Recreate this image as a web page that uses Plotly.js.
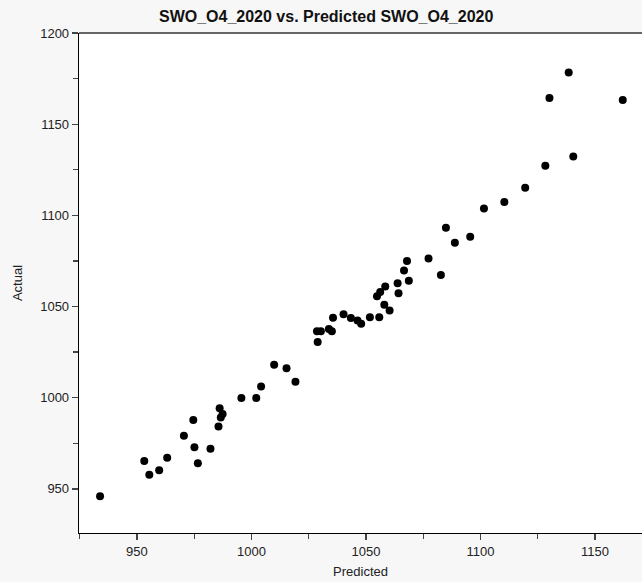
<!DOCTYPE html>
<html>
<head>
<meta charset="utf-8">
<script src="https://cdn.plot.ly/plotly-3.0.1.min.js"></script>
<style>html,body{margin:0;padding:0;background:#f7f7f7;overflow:hidden;}</style>
</head>
<body>
<div id="chart" style="width:642px;height:582px;"></div>
<script>
const predicted = [
  933.9, 953.2, 955.4, 959.7, 963.2, 970.5, 974.6, 975.1, 976.6, 982.1,
  985.6, 986.1, 986.6, 987.4, 995.6, 1002.1, 1004.2, 1009.9, 1015.3, 1019.2,
  1028.9, 1028.6, 1030.3, 1033.8, 1035.1, 1035.6, 1040.2, 1043.4, 1046.3, 1047.9,
  1051.7, 1055.8, 1054.8, 1056.2, 1058.4, 1058.0, 1060.3, 1063.8, 1064.2, 1066.6,
  1067.9, 1068.7, 1077.3, 1082.7, 1084.9, 1088.8, 1095.5, 1101.5, 1110.4, 1119.5,
  1128.3, 1130.1, 1138.5, 1140.5, 1162.1
];
const actual = [
  946.0, 965.3, 957.7, 960.2, 967.0, 979.1, 987.8, 972.8, 964.0, 972.0,
  984.2, 994.2, 989.1, 991.1, 999.9, 999.9, 1006.2, 1018.0, 1016.2, 1008.8,
  1030.6, 1036.4, 1036.4, 1037.7, 1036.4, 1043.8, 1045.8, 1043.7, 1042.3, 1040.5,
  1044.1, 1044.1, 1055.6, 1057.9, 1061.0, 1051.0, 1047.8, 1062.8, 1057.3, 1069.7,
  1075.0, 1064.2, 1076.3, 1067.3, 1093.2, 1085.0, 1088.2, 1103.8, 1107.3, 1115.2,
  1127.2, 1164.4, 1178.4, 1132.3, 1163.3
];
const chartTitle = "SWO_O4_2020 vs. Predicted SWO_O4_2020";
const xTitle = "Predicted";
const yTitle = "Actual";

const trace = {
  x: predicted, y: actual, type: 'scatter', mode: 'markers',
  marker: {color: '#000000', size: 8},
  hoverinfo: 'x+y'
};

const layout = {
  width: 642, height: 582,
  paper_bgcolor: '#f7f7f7', plot_bgcolor: '#ffffff',
  margin: {l: 78.5, r: 0, t: 33.3, b: 48.7, pad: 0},
  showlegend: false,
  font: {family: 'Arial, "Liberation Sans", sans-serif', color: '#222', size: 13},
  title: {text: '<b>' + chartTitle + '</b>', font: {size: 16, color: '#111'},
          xref: 'paper', x: 0.439, xanchor: 'center', y: 0.981, yref: 'container', yanchor: 'top'},
  xaxis: {
    range: [924.7, 1170.5], dtick: 50, tick0: 950, showgrid: false, zeroline: false,
    showline: true, linecolor: '#000', linewidth: 1.3,
    ticks: 'outside', ticklen: 6, tickcolor: '#444', tickwidth: 1.3,
    minor: {dtick: 25, tick0: 925, ticks: 'outside', ticklen: 5, tickcolor: '#444', tickwidth: 1.3, showgrid: false},
    tickfont: {size: 13, color: '#222'},
    title: {text: xTitle, font: {size: 13, color: '#222'}, standoff: 9}
  },
  yaxis: {
    range: [925.8, 1200], dtick: 50, tick0: 950, showgrid: false, zeroline: false,
    showline: true, linecolor: '#000', linewidth: 1.3,
    ticks: 'outside', ticklen: 6, tickcolor: '#444', tickwidth: 1.3,
    minor: {dtick: 25, tick0: 925, ticks: 'outside', ticklen: 5, tickcolor: '#444', tickwidth: 1.3, showgrid: false},
    tickfont: {size: 13, color: '#222'},
    title: {text: yTitle, font: {size: 13, color: '#222'}, standoff: 14}
  },
  shapes: [{type: 'line', xref: 'paper', yref: 'paper', x0: 0, x1: 1, y0: 1, y1: 1,
            line: {color: '#666', width: 2}}]
};

Plotly.newPlot('chart', [trace], layout, {displayModeBar: false, staticPlot: true});
</script>
</body>
</html>
